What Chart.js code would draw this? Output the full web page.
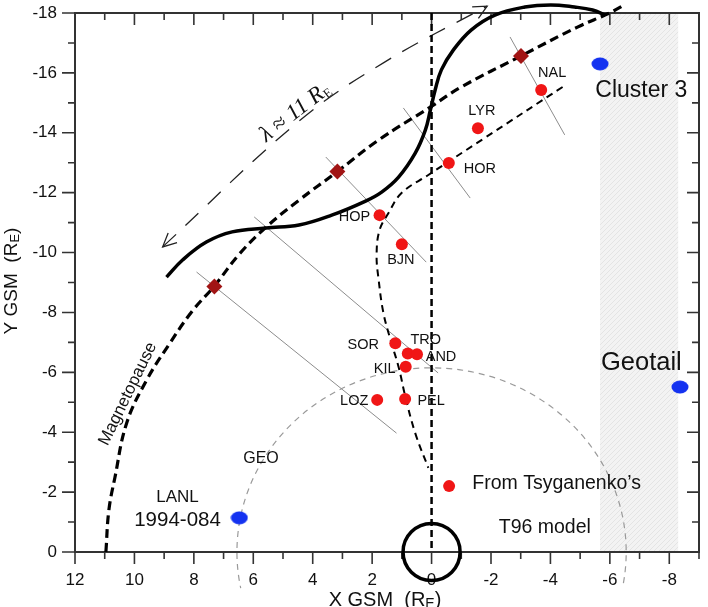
<!DOCTYPE html>
<html>
<head>
<meta charset="utf-8">
<script src="https://cdn.jsdelivr.net/npm/chart.js@4/dist/chart.umd.min.js"></script>
<style>
  html, body { margin: 0; padding: 0; background: #fff; }
  #wrap { width: 708px; height: 607px; }
</style>
</head>
<body>
<div id="wrap"><canvas id="chart" width="708" height="607"></canvas></div>
<script>
// ==========================
// Data (GSM, Earth radii)
// ==========================
const xTickValues = [12, 10, 8, 6, 4, 2, 0, -2, -4, -6, -8];
const yTickValues = [-18, -16, -14, -12, -10, -8, -6, -4, -2, 0];

// ground stations
const stationNames = ['NAL', 'LYR', 'HOR', 'HOP', 'BJN', 'SOR', 'TRO', 'AND', 'KIL', 'LOZ', 'PEL'];
const stationX = [-3.69, -1.56, -0.58, 1.75, 1.00, 1.22, 0.80, 0.49, 0.87, 1.83, 0.89];
const stationY = [-15.43, -14.15, -12.99, -11.25, -10.28, -6.97, -6.63, -6.60, -6.19, -5.08, -5.11];

// T96 mapped point
const modelPointX = [-0.59];
const modelPointY = [-2.20];

// magnetopause crossing markers
const markerX = [7.31, 3.17, -3.01];
const markerY = [-8.87, -12.71, -16.56];

// spacecraft
const craftNames = ['Cluster 3', 'Geotail', 'LANL 1994-084'];
const craftX = [-5.67, -8.36, 6.47];
const craftY = [-16.30, -5.51, -1.14];

// magnetopause (dashed)
const mpX = [10.96, 10.86, 10.66, 10.26, 9.59, 8.85, 8.05, 7.31, 6.47, 5.57, 4.46, 3.19, 1.78, 0.04, -1.00, -3.00, -4.91, -5.99, -6.49];
const mpY = [0.00, -1.40, -2.47, -4.31, -5.74, -6.91, -8.05, -8.88, -9.95, -10.85, -11.75, -12.69, -13.76, -14.86, -15.53, -16.56, -17.53, -18.00, -18.27];

// surface wave (solid)
const waveX = [8.92, 8.38, 7.58, 6.71, 5.57, 4.46, 3.36, 2.22, 1.68, 1.11, 0.55, 0.21, 0.04, -0.12, -0.33, -0.73, -1.33, -2.13, -3.14, -4.01, -4.81, -5.42, -5.85];
const waveY = [-9.18, -9.75, -10.35, -10.69, -10.82, -10.92, -11.25, -11.72, -12.02, -12.52, -13.32, -14.09, -14.76, -15.43, -16.10, -16.76, -17.43, -17.93, -18.20, -18.27, -18.20, -18.10, -17.93];

// mapped footprint curve (thin dashed)
const innerX = [-4.41, -1.73, 0.11, 1.01, 1.45, 1.75, 1.85, 1.78, 1.62, 1.38, 1.11, 0.88, 0.55, 0.11];
const innerY = [-15.53, -13.79, -12.59, -11.99, -11.32, -10.75, -9.92, -9.08, -7.98, -7.08, -6.18, -5.18, -3.97, -2.81];

// noon meridian
const noonX = [0, 0];
const noonY = [-18, 0];

// wavelength arrow
const arrowX = [9.05, 4.46, 1.58, -1.87];
const arrowY = [-10.19, -14.39, -16.36, -18.23];

// normals to the magnetopause (start, end)
const normalX = [[7.91, 1.18], [5.97, -0.22], [3.56, 0.18], [0.95, -1.30], [-2.64, -4.48]];
const normalY = [[-9.35, -3.97], [-11.19, -5.98], [-13.19, -9.68], [-14.83, -11.82], [-17.20, -13.93]];

// geosynchronous orbit radii, Earth radius, tail shading
const geoRadiusX = 6.55;
const geoRadiusY = 6.15;
const earthRadius = 0.96;
const shadeX = [-5.67, -8.30];

// ==========================
// Layout / styling
// ==========================
const SANS = 'Arial, "Liberation Sans", Helvetica, sans-serif';
const SERIF = '"Liberation Serif", "Times New Roman", serif';

const stationOffsets = {
    NAL: [11, -16.5], LYR: [4, -17], HOR: [31, 6], HOP: [-25, 2], BJN: [-1, 16],
    SOR: [-32, 2], TRO: [18, -13], AND: [24, 3], KIL: [-21, 2], LOZ: [-23, 1], PEL: [26, 2]
};

const annotations = [
    { text: 'GEO', x: 5.74, y: -3.11, size: 16 },
    { text: 'LANL', x: 8.55, y: -1.84, size: 17 },
    { text: '1994-084', x: 8.55, y: -1.07, size: 20.5 },
    { text: 'From Tsyganenko\u2019s', x: -4.21, y: -2.30, size: 19.5 },
    { text: 'T96 model', x: -3.81, y: -0.80, size: 19.5 },
    { text: 'Cluster 3', x: -7.06, y: -15.40, size: 23 },
    { text: 'Geotail', x: -7.06, y: -6.31, size: 25.5 },
    { text: 'Magnetopause', x: 10.22, y: -5.28, size: 17, angle: -64 }
];

const pts = (xs, ys) => xs.map((x, i) => ({ x, y: ys[i] }));

function ellipseDot(w, h, color) {
    const c = document.createElement('canvas');
    c.width = w; c.height = h;
    const g = c.getContext('2d');
    g.fillStyle = color;
    g.beginPath();
    g.ellipse(w / 2, h / 2, w / 2 - 0.5, h / 2 - 0.5, 0, 0, Math.PI * 2);
    g.fill();
    return c;
}

function hatchPattern(ctx) {
    const c = document.createElement('canvas');
    c.width = 5; c.height = 5;
    const g = c.getContext('2d');
    g.fillStyle = '#f3f3f3';
    g.fillRect(0, 0, 5, 5);
    g.strokeStyle = '#e4e4e4';
    g.lineWidth = 1;
    g.beginPath(); g.moveTo(0, 5); g.lineTo(5, 0); g.stroke();
    return ctx.createPattern(c, 'repeat');
}

function lineSet(data, color, width, dash, tension) {
    return {
        data, showLine: true, borderColor: color, borderWidth: width,
        borderDash: dash || [], tension: tension || 0, pointRadius: 0,
        pointHitRadius: 0, fill: false, clip: false, borderCapStyle: 'butt'
    };
}

// draws runs of text (for the R_E subscripts) centred on (cx, cy)
function drawRich(ctx, runs, cx, cy, angle) {
    ctx.save();
    ctx.translate(cx, cy);
    ctx.rotate(angle || 0);
    ctx.textBaseline = 'alphabetic';
    ctx.textAlign = 'left';
    let total = 0;
    runs.forEach(r => { ctx.font = r.font; r.w = ctx.measureText(r.t).width; total += r.w; });
    let x = -total / 2;
    runs.forEach(r => {
        ctx.font = r.font;
        ctx.fillText(r.t, x, r.dy || 0);
        x += r.w;
    });
    ctx.restore();
}

// ==========================
// Datasets
// ==========================
const datasets = [
    { data: pts(stationX, stationY), pointRadius: 6, pointBackgroundColor: '#f01616', pointBorderWidth: 0 },
    { data: pts(modelPointX, modelPointY), pointRadius: 6, pointBackgroundColor: '#f01616', pointBorderWidth: 0 },
    { data: pts(markerX, markerY), pointStyle: 'rectRot', pointRadius: 8, pointBackgroundColor: '#a11414', pointBorderWidth: 0 },
    { data: pts(craftX, craftY), pointStyle: ellipseDot(18, 14, '#1432f0'), pointRadius: 8 },
    lineSet(pts(waveX, waveY), '#000', 3.5, null, 0.4),
    lineSet(pts(mpX, mpY), '#000', 3.2, [9, 5], 0.4),
    lineSet(pts(innerX, innerY), '#000', 2, [7, 5], 0.4),
    lineSet(pts(noonX, noonY), '#000', 2.5, [7, 4], 0),
    lineSet(pts(arrowX, arrowY), '#222', 1.3, [18, 13], 0.4)
];
const ARROW = datasets.length - 1;
normalX.forEach((nx, i) => datasets.push(lineSet(pts(nx, normalY[i]), '#8c8c8c', 1, null, 0)));

// ==========================
// Plugins
// ==========================
const backdropPlugin = {
    id: 'backdrop',
    beforeDatasetsDraw(chart) {
        const { ctx, chartArea: a, scales: { x, y } } = chart;
        ctx.save();
        // tail shading
        const x1 = x.getPixelForValue(shadeX[0]);
        const x2 = x.getPixelForValue(shadeX[1]);
        ctx.fillStyle = hatchPattern(ctx);
        ctx.fillRect(Math.min(x1, x2), a.top, Math.abs(x2 - x1), a.bottom - a.top);

        // geosynchronous orbit
        const cx = x.getPixelForValue(0), cy = y.getPixelForValue(0);
        const rx = Math.abs(x.getPixelForValue(geoRadiusX) - cx);
        const ry = Math.abs(y.getPixelForValue(-geoRadiusY) - cy);
        ctx.strokeStyle = '#9a9a9a';
        ctx.lineWidth = 1.2;
        ctx.setLineDash([6, 5]);
        ctx.beginPath();
        ctx.ellipse(cx, cy, rx, ry, 0, 9.7 * Math.PI / 180, 168.7 * Math.PI / 180, true);
        ctx.stroke();
        ctx.setLineDash([]);

        // frame + ticks
        ctx.strokeStyle = '#333';
        ctx.lineWidth = 2;
        ctx.strokeRect(a.left, a.top, a.right - a.left, a.bottom - a.top);
        ctx.lineWidth = 1.6;
        ctx.beginPath();
        for (let v = Math.ceil(x.min); v <= x.max; v++) {
            const p = x.getPixelForValue(v);
            const len = v % 2 === 0 ? 12 : 7;
            ctx.moveTo(p, a.bottom); ctx.lineTo(p, a.bottom + len);
            ctx.moveTo(p, a.top); ctx.lineTo(p, a.top + len);
        }
        for (let v = Math.ceil(y.min); v <= y.max; v++) {
            const p = y.getPixelForValue(v);
            const major = v % 2 === 0;
            ctx.moveTo(a.left, p); ctx.lineTo(a.left - (major ? 13 : 7), p);
            ctx.moveTo(a.right, p); ctx.lineTo(a.right - (major ? 12 : 7), p);
        }
        ctx.stroke();
        ctx.restore();
    }
};

const overlayPlugin = {
    id: 'overlay',
    afterDatasetsDraw(chart) {
        const { ctx, scales: { x, y } } = chart;
        ctx.save();

        // Earth
        const cx = x.getPixelForValue(0), cy = y.getPixelForValue(0);
        const r = Math.abs(x.getPixelForValue(earthRadius) - cx);
        ctx.strokeStyle = '#000';
        ctx.lineWidth = 3.5;
        ctx.beginPath();
        ctx.arc(cx, cy, r, 0, Math.PI * 2);
        ctx.stroke();

        // arrow heads
        const arr = chart.getDatasetMeta(ARROW).data;
        const head = (tip, from) => {
            const a = Math.atan2(tip.y - from.y, tip.x - from.x);
            const len = 15, spread = 0.45;
            ctx.beginPath();
            ctx.moveTo(tip.x - len * Math.cos(a - spread), tip.y - len * Math.sin(a - spread));
            ctx.lineTo(tip.x, tip.y);
            ctx.lineTo(tip.x - len * Math.cos(a + spread), tip.y - len * Math.sin(a + spread));
            ctx.stroke();
        };
        ctx.strokeStyle = '#222';
        ctx.lineWidth = 1.3;
        head(arr[0], arr[1]);
        head(arr[arr.length - 1], arr[arr.length - 2]);

        // station labels
        ctx.fillStyle = '#111';
        ctx.textAlign = 'center';
        ctx.textBaseline = 'middle';
        ctx.font = '14.5px ' + SANS;
        const stations = chart.getDatasetMeta(0).data;
        stationNames.forEach((name, i) => {
            const off = stationOffsets[name];
            ctx.fillText(name, stations[i].x + off[0], stations[i].y + off[1]);
        });

        // free annotations
        annotations.forEach(t => {
            ctx.save();
            ctx.translate(x.getPixelForValue(t.x), y.getPixelForValue(t.y));
            if (t.angle) ctx.rotate(t.angle * Math.PI / 180);
            ctx.font = t.size + 'px ' + SANS;
            ctx.fillText(t.text, 0, 0);
            ctx.restore();
        });

        // wavelength label
        drawRich(ctx, [
            { t: '\u03bb \u2248 11 R', font: 'italic 23px ' + SERIF },
            { t: 'E', font: '13px ' + SERIF, dy: 3 }
        ], x.getPixelForValue(4.53) + 2, y.getPixelForValue(-14.66) + 4, -38 * Math.PI / 180);

        // axis titles
        drawRich(ctx, [
            { t: 'Y GSM  (R', font: '19px ' + SANS },
            { t: 'E', font: '13px ' + SANS, dy: 2 },
            { t: ')', font: '19px ' + SANS }
        ], 17, 281, -Math.PI / 2);
        drawRich(ctx, [
            { t: 'X GSM  (R', font: '20px ' + SANS },
            { t: 'E', font: '14px ' + SANS, dy: 2 },
            { t: ')', font: '20px ' + SANS }
        ], 385, 606, 0);

        ctx.restore();
    }
};

// keep the plot box fixed: no extra room for overhanging tick labels
const fixBox = (size, key) => s => {
    s[key] = size;
    s.paddingTop = 0; s.paddingBottom = 0; s.paddingLeft = 0; s.paddingRight = 0;
};

// ==========================
// Chart
// ==========================
new Chart(document.getElementById('chart'), {
    type: 'scatter',
    data: { datasets },
    options: {
        responsive: false,
        animation: false,
        devicePixelRatio: 1,
        events: [],
        layout: { padding: { top: 13, right: 6, left: 0, bottom: 0 } },
        elements: { line: { capBezierPoints: false } },
        plugins: { legend: { display: false }, tooltip: { enabled: false } },
        scales: {
            x: {
                type: 'linear', reverse: true, min: -9, max: 12,
                afterBuildTicks: s => { s.ticks = xTickValues.map(v => ({ value: v })); },
                afterFit: fixBox(55, 'height'),
                grid: { display: false, drawTicks: false },
                border: { display: false },
                ticks: { font: { family: SANS, size: 17 }, color: '#111', padding: 18, autoSkip: false, maxRotation: 0 }
            },
            y: {
                type: 'linear', reverse: true, min: -18, max: 0,
                afterBuildTicks: s => { s.ticks = yTickValues.map(v => ({ value: v })); },
                afterFit: fixBox(75, 'width'),
                grid: { display: false, drawTicks: false },
                border: { display: false },
                ticks: { font: { family: SANS, size: 17 }, color: '#111', padding: 18, autoSkip: false }
            }
        }
    },
    plugins: [backdropPlugin, overlayPlugin]
});
</script>
</body>
</html>
